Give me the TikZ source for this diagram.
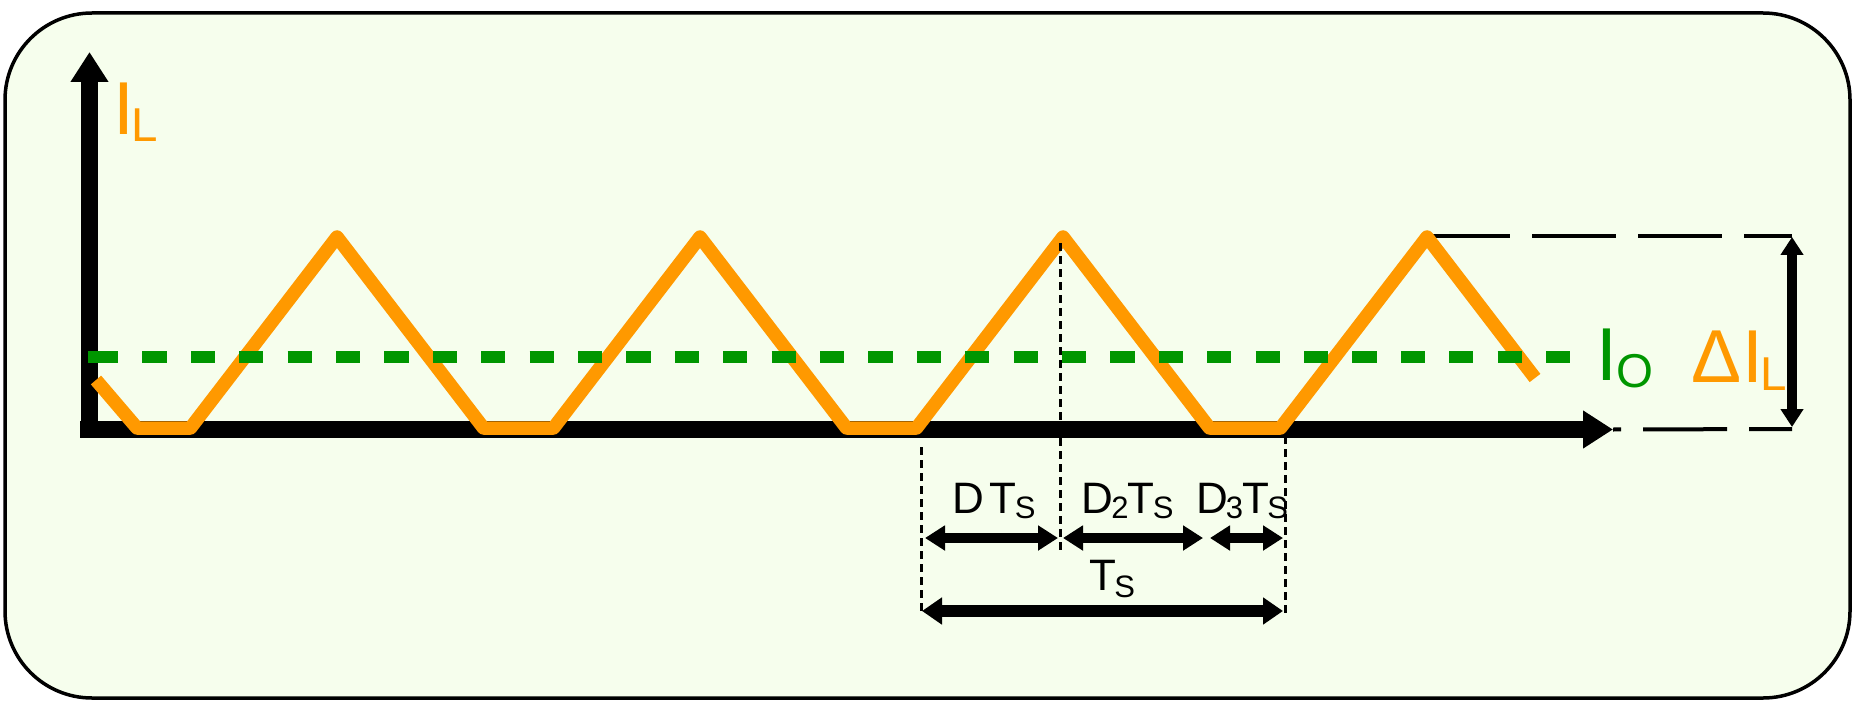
\documentclass[tikz,border=0pt]{standalone}
\usepackage{fontspec}
\setmainfont{Liberation Sans}
\usetikzlibrary{arrows.meta}
\definecolor{bgc}{RGB}{246,254,237}
\definecolor{org}{RGB}{255,153,0}
\definecolor{grn}{RGB}{0,150,0}
\newcommand{\lowsub}[3]{\raisebox{-#1pt}{\fontsize{#2}{#2}\selectfont #3}}
\begin{document}
\begin{tikzpicture}[x=1pt,y=-1pt,
  lbl/.style={inner sep=0pt, outer sep=0pt, anchor=base west},
  axisline/.style={line width=17.5pt, -{Triangle[length=30pt,width=36pt]}},
  wave/.style={org, line width=13.5pt, line join=round},
  meanline/.style={grn, line width=12pt, dash pattern=on 24.2pt off 24.2pt},
  guide/.style={black, line width=4pt, dash pattern=on 84pt off 22pt},
  dotline/.style={black, line width=3pt, dash pattern=on 8pt off 5pt},
  dimarrow/.style={line width=10pt, {Triangle[length=20pt,width=24pt]}-{Triangle[length=20pt,width=24pt]}},
  deltaarrow/.style={line width=10pt, {Triangle[length=18pt,width=22pt]}-{Triangle[length=18pt,width=22pt]}}
]
\useasboundingbox (0,0) rectangle (1859,711);
\draw[line width=3.5pt, fill=bgc, rounded corners=87pt] (5,13) rectangle (1850,698);

% coordinates
\coordinate (xs) at (80,429.5);
\coordinate (xe) at (1613,429.5);
\coordinate (ys) at (89.5,438);
\coordinate (ye) at (89.5,52);
\coordinate (pk4) at (1433,236);
\coordinate (tr) at (1792,236);
\coordinate (br) at (1792,429);
\coordinate (at) at (1792,237);
\coordinate (ab) at (1792,427);
\coordinate (g0) at (88,357);
\coordinate (gs) at (94,357);
\coordinate (ge) at (1577,357);
\coordinate (l1) at (921,447);
\coordinate (l2) at (921,613);
\coordinate (m1) at (1060,243);
\coordinate (m2) at (1060,550);
\coordinate (r1) at (1285,436);
\coordinate (r2) at (1285,613);
\coordinate (a1) at (925,538);
\coordinate (a2) at (1058,538);
\coordinate (b1) at (1063,538);
\coordinate (b2) at (1203,538);
\coordinate (c1) at (1210,538);
\coordinate (c2) at (1283,538);
\coordinate (t1) at (922,611);
\coordinate (t2) at (1283,611);

% guide lines for Delta I_L
\draw[guide, dash phase=7pt] (pk4) -- (tr);
\draw[guide, dash phase=76pt] (xe) -- (br);

% axes
\draw[axisline] (xs) -- (xe);
\draw[axisline] (ys) -- (ye);

% inductor current
\draw[wave] (96,380) -- (137,428) -- (190.5,428) -- (337,237) -- (483.5,428) -- (553.5,428)
  -- (700,237) -- (846.5,428) -- (916.5,428) -- (1063,237) -- (1209.5,428) -- (1280.5,428)
  -- (1427,237) -- (1535,378);

% mean current
\draw[grn, line width=12pt] (g0) -- (gs);
\draw[meanline] (gs) -- (ge);

% dotted markers
\draw[dotline] (l1) -- (l2);
\draw[dotline] (m1) -- (m2);
\draw[dotline] (r1) -- (r2);

% dimension arrows
\draw[dimarrow] (a1) -- (a2);
\draw[dimarrow] (b1) -- (b2);
\draw[dimarrow] (c1) -- (c2);
\draw[line width=12pt, {Triangle[length=20pt,width=26pt]}-{Triangle[length=20pt,width=26pt]}] (t1) -- (t2);
\draw[deltaarrow] (at) -- (ab);

% labels
\node[lbl, text=org] (il) at (113,135) {\fontsize{75}{75}\selectfont I\kern-2pt\lowsub{7}{47.5}{L}};
\node[lbl, text=grn] (io) at (1596,380) {\fontsize{75}{75}\selectfont I\lowsub{7}{47.5}{O}};
\node[lbl, text=org] (dil) at (1691,382) {\fontsize{75}{75}\selectfont Δ\kern1pt I\kern-2.5pt\lowsub{8}{47.5}{L}};
\node[lbl] (dts) at (952.6,513) {\fontsize{44}{44}\selectfont D\kern5pt T\kern-1.5pt\lowsub{5}{31}{S}};
\node[lbl] (d2ts) at (1081.5,513) {\fontsize{44}{44}\selectfont D\kern-2pt\lowsub{5}{31}{2}\kern-1pt T\kern-1.5pt\lowsub{5}{31}{S}};
\node[lbl] (d3ts) at (1196,513) {\fontsize{44}{44}\selectfont D\kern-2pt\lowsub{5}{31}{3}\kern-1pt T\kern-1.5pt\lowsub{5}{31}{S}};
\node[lbl] (ts) at (1089,590) {\fontsize{44}{44}\selectfont T\kern-1.5pt\lowsub{7}{31}{S}};
\end{tikzpicture}
\end{document}
